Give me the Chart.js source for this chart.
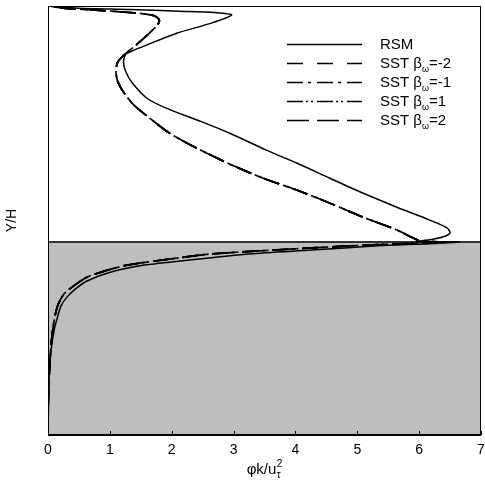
<!DOCTYPE html>
<html>
<head>
<meta charset="utf-8">
<script src="https://cdn.jsdelivr.net/npm/chart.js@4/dist/chart.umd.min.js"></script>
<style>
    html, body { margin: 0; padding: 0; background: #fff; }
    #wrap { width: 485px; height: 492px; }
</style>
</head>
<body>
<div id="wrap"><canvas id="profileChart" width="485" height="492"></canvas></div>
<script>
// x axis ticks
const xTicks = [0, 1, 2, 3, 4, 5, 6, 7];
// interface between porous layer (shaded) and clear fluid, in Y/H
const interfaceY = 0.45;

// RSM profile, bottom wall -> top wall
const rsmX = [0.00, 0.01, 0.02, 0.05, 0.10, 0.15, 0.21, 0.31, 0.44, 0.63, 1.02, 1.56, 2.29, 3.26, 4.26, 5.33, 6.17, 6.65,
    5.96, 6.17, 6.39, 6.50, 6.45, 6.17, 5.64, 5.09, 4.55, 4.02, 3.53, 2.93, 2.45, 1.91, 1.60, 1.36, 1.26, 1.22, 1.26, 1.39,
    1.56, 2.09, 2.64, 2.97, 2.69, 2.12, 1.31, 0.50, 0.00];
const rsmY = [0.000, 0.082, 0.145, 0.198, 0.245, 0.273, 0.301, 0.322, 0.340, 0.359, 0.380, 0.396, 0.408, 0.422, 0.431, 0.441, 0.446, 0.450,
    0.451, 0.455, 0.462, 0.471, 0.483, 0.501, 0.531, 0.564, 0.599, 0.634, 0.664, 0.704, 0.732, 0.762, 0.785, 0.821, 0.846, 0.869, 0.888, 0.897,
    0.907, 0.937, 0.960, 0.979, 0.985, 0.988, 0.992, 0.995, 1.000];

// SST profiles (the four beta_omega cases lie almost on top of each other)
const sstX = [0.00, 0.005, 0.02, 0.05, 0.10, 0.16, 0.26, 0.41, 0.63, 0.91, 1.28, 1.96, 2.64, 4.26, 5.36, 6.50,
    6.01, 5.64, 5.09, 4.55, 4.02, 3.47, 2.93, 2.40, 1.96, 1.64, 1.39, 1.23, 1.13, 1.10, 1.12, 1.23, 1.44, 1.64, 1.77, 1.80,
    1.72, 1.47, 0.83, 0.34, 0.00];
const sstY = [0.000, 0.082, 0.140, 0.210, 0.268, 0.303, 0.329, 0.347, 0.368, 0.382, 0.396, 0.410, 0.422, 0.436, 0.444, 0.450,
    0.453, 0.478, 0.508, 0.541, 0.571, 0.599, 0.632, 0.669, 0.704, 0.739, 0.769, 0.797, 0.823, 0.844, 0.867, 0.886, 0.911, 0.937, 0.956, 0.967,
    0.977, 0.983, 0.990, 0.994, 1.000];

const seriesLabels = ['RSM', 'SST β=-2', 'SST β=-1', 'SST β=1', 'SST β=2'];
const legendNames = ['RSM', '-2', '-1', '1', '2'];
// all dashed patterns share a 30px period so the overlapping SST curves keep their gaps
const dashes = [[], [16, 14], [16, 5, 3, 6], [16, 3, 2, 3, 2, 4], [22, 8]];

Chart.defaults.font.family = "'Liberation Sans', Arial, sans-serif";
Chart.defaults.color = '#000';

function toPoints(xs, ys) {
    return xs.map((x, i) => ({ x: x, y: ys[i] }));
}

// shaded porous region + interface line, drawn under the curves
const backgroundPlugin = {
    id: 'porousBackground',
    beforeDatasetsDraw(chart) {
        const { ctx, chartArea: a, scales } = chart;
        const yi = scales.y.getPixelForValue(interfaceY);
        ctx.save();
        ctx.fillStyle = '#bebebe';
        ctx.fillRect(a.left, yi, a.right - a.left, a.bottom - yi);
        ctx.strokeStyle = '#333';
        ctx.lineWidth = 2;
        ctx.beginPath();
        ctx.moveTo(a.left, yi);
        ctx.lineTo(a.right, yi);
        ctx.stroke();
        ctx.restore();
    }
};

// frame, inward ticks, x title with sub/superscript, legend
const overlayPlugin = {
    id: 'overlay',
    afterDraw(chart) {
        const { ctx, chartArea: a, scales } = chart;
        ctx.save();
        // frame
        ctx.strokeStyle = '#000';
        ctx.lineWidth = 1;
        ctx.strokeRect(a.left + 0.5, a.top + 0.5, a.right - a.left - 1, a.bottom - a.top);
        ctx.lineWidth = 2;
        ctx.beginPath();
        ctx.moveTo(a.left, a.bottom);
        ctx.lineTo(a.right, a.bottom);
        ctx.stroke();
        // inward ticks on the bottom axis
        ctx.lineWidth = 1;
        xTicks.forEach(v => {
            const px = Math.round(scales.x.getPixelForValue(v)) + 0.5;
            ctx.beginPath();
            ctx.moveTo(px, a.bottom);
            ctx.lineTo(px, a.bottom - 4);
            ctx.stroke();
        });

        // x title: phi k / u_tau^2
        ctx.fillStyle = '#000';
        ctx.textBaseline = 'alphabetic';
        ctx.font = "15px 'Liberation Sans', Arial, sans-serif";
        const base = 'φk/u';
        const wBase = ctx.measureText(base).width;
        const cx = (a.left + a.right) / 2;
        const tx = cx - (wBase + 6) / 2;
        const ty = 474;
        ctx.fillText(base, tx, ty);
        ctx.font = "10px 'Liberation Sans', Arial, sans-serif";
        ctx.fillText('2', tx + wBase + 0.5, ty - 7);
        ctx.fillText('τ', tx + wBase + 0.5, ty + 4);

        // legend
        const lx0 = 287, lx1 = 362, textX = 380;
        const rows = [44, 63, 82, 101, 120];
        rows.forEach((ry, i) => {
            ctx.setLineDash(dashes[i]);
            ctx.lineWidth = 1.5;
            ctx.beginPath();
            ctx.moveTo(lx0, ry + 0.5);
            ctx.lineTo(lx1, ry + 0.5);
            ctx.stroke();
            ctx.setLineDash([]);
            ctx.font = "15px 'Liberation Sans', Arial, sans-serif";
            ctx.textBaseline = 'middle';
            if (i === 0) {
                ctx.fillText(legendNames[0], textX, ry + 1);
            } else {
                const head = 'SST β';
                ctx.fillText(head, textX, ry + 1);
                let x = textX + ctx.measureText(head).width;
                ctx.font = "9px 'Liberation Sans', Arial, sans-serif";
                ctx.fillText('ω', x, ry + 7);
                x += ctx.measureText('ω').width;
                ctx.font = "15px 'Liberation Sans', Arial, sans-serif";
                ctx.fillText('=' + legendNames[i], x, ry + 1);
            }
        });
        ctx.restore();
    }
};

function buildDatasets() {
    const sets = [];
    seriesLabels.forEach((label, i) => {
        const isRsm = i === 0;
        sets.push({
            label: label,
            data: isRsm ? toPoints(rsmX, rsmY) : toPoints(sstX, sstY),
            showLine: true,
            borderColor: '#000',
            borderWidth: isRsm ? 1.5 : 1.7,
            borderDash: dashes[i],
            pointRadius: 0,
            tension: 0.25,
            fill: false
        });
    });
    return sets;
}

new Chart(document.getElementById('profileChart').getContext('2d'), {
    type: 'scatter',
    data: { datasets: buildDatasets() },
    options: {
        responsive: false,
        animation: false,
        layout: { padding: { top: 6, right: 4, left: 0, bottom: 0 } },
        plugins: {
            legend: { display: false },
            tooltip: { enabled: false }
        },
        scales: {
            x: {
                type: 'linear',
                min: 0,
                max: 7,
                afterFit(scale) {
                    scale.height = 57;
                    scale.paddingLeft = 0;
                    scale.paddingRight = 0;
                },
                afterBuildTicks(scale) { scale.ticks = xTicks.map(v => ({ value: v })); },
                border: { display: false },
                grid: { display: false, drawTicks: false },
                ticks: { font: { size: 14 }, padding: 7, maxRotation: 0 }
            },
            y: {
                type: 'linear',
                min: 0,
                max: 1,
                afterFit(scale) {
                    scale.width = 48;
                    scale.paddingTop = 0;
                    scale.paddingBottom = 0;
                },
                border: { display: false },
                grid: { display: false, drawTicks: false },
                ticks: { display: false },
                title: { display: true, text: 'Y/H', font: { size: 14 }, padding: { top: 4, bottom: 0 } }
            }
        }
    },
    plugins: [backgroundPlugin, overlayPlugin]
});
</script>
</body>
</html>
